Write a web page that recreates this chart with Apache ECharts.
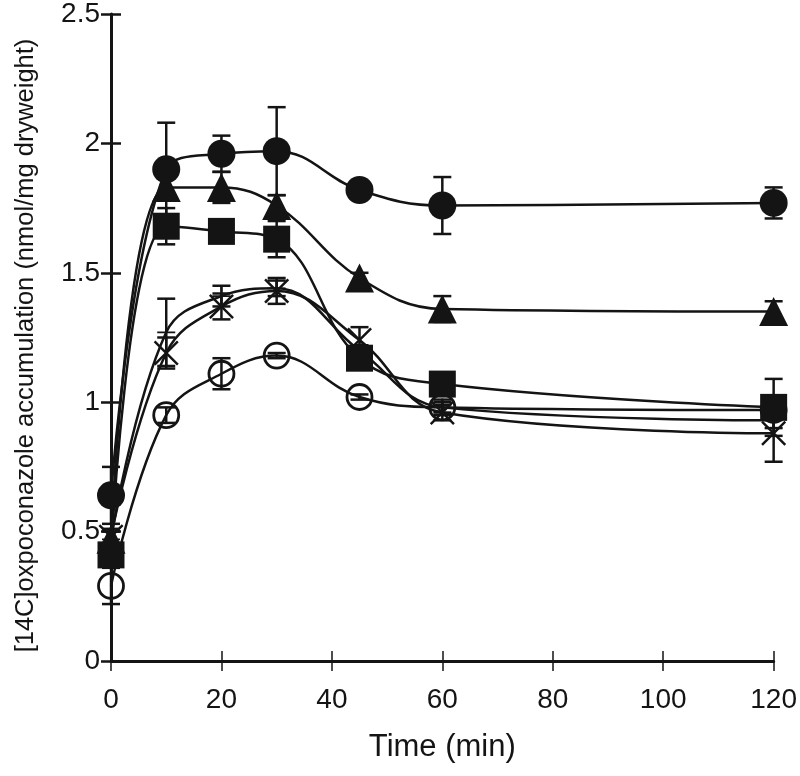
<!DOCTYPE html>
<html>
<head>
<meta charset="utf-8">
<script src="https://cdn.jsdelivr.net/npm/echarts@6/dist/echarts.min.js"></script>
<style>
html,body{margin:0;padding:0;background:#fff;}
#chart{width:800px;height:776px;}
</style>
</head>
<body>
<div id="chart"></div>
<script>
// ---- data ----
const times = [0, 10, 20, 30, 45, 60, 120];
const xTicks = [0, 20, 40, 60, 80, 100, 120];
const yTicks = [0, 0.5, 1, 1.5, 2, 2.5];

const filledCircle    = [0.64, 1.90, 1.96, 1.97, 1.82, 1.76, 1.77];
const filledCircleErr = [0.11, 0.18, 0.07, 0.17, 0.02, 0.11, 0.06];

const filledTriangle    = [0.47, 1.83, 1.83, 1.76, 1.48, 1.36, 1.35];
const filledTriangleErr = [0.04, 0.04, 0.06, 0.04, 0.02, 0.05, 0.04];

const filledSquare    = [0.41, 1.68, 1.66, 1.63, 1.17, 1.07, 0.98];
const filledSquareErr = [0.04, 0.07, 0.02, 0.07, 0.03, 0.03, 0.11];

const cross    = [0.48, 1.19, 1.37, 1.43, 1.24, 0.96, 0.88];
const crossErr = [0.03, 0.06, 0.05, 0.05, 0.05, 0.03, 0.11];

const plus    = [0.47, 1.27, 1.41, 1.44, 1.20, 0.98, 0.93];
const plusErr = [0.03, 0.13, 0.04, 0.03, 0.02, 0.03, 0.03];

const openCircle    = [0.29, 0.95, 1.11, 1.18, 1.02, 0.98, 0.97];
const openCircleErr = [0.07, 0.03, 0.06, 0.01, 0.01, 0.02, 0.02];

const xTitle = 'Time (min)';
const yTitle = '[14C]oxpoconazole accumulation (nmol/mg dryweight)';

// ---- build ----
const INK = '#141414';
const FONT = 'Liberation Sans, Arial, sans-serif';
const X_PATH = 'path://M7,0L50,43L93,0L100,7L57,50L100,93L93,100L50,57L7,100L0,93L43,50L0,7Z';
const PLUS_PATH = 'path://M45,0L55,0L55,45L100,45L100,55L55,55L55,100L45,100L45,55L0,55L0,45L45,45Z';

function pts(vals) { return times.map((t, i) => [t, vals[i]]); }
function errPts(vals, errs) { return times.map((t, i) => [t, vals[i] - errs[i], vals[i] + errs[i]]); }

function lineSeries(vals, symbol, size, itemStyle) {
  return {
    type: 'line',
    data: pts(vals),
    smooth: 0.4,
    symbol: symbol,
    symbolSize: size,
    showAllSymbol: true,
    lineStyle: { color: INK, width: 2.5 },
    itemStyle: itemStyle || { color: INK },
    z: 3,
    animation: false
  };
}

function errSeries(vals, errs) {
  return {
    type: 'custom',
    data: errPts(vals, errs),
    z: 2,
    animation: false,
    renderItem: function (params, api) {
      const x = api.value(0);
      const p1 = api.coord([x, api.value(2)]);
      const p2 = api.coord([x, api.value(1)]);
      const w = 9;
      const st = { stroke: INK, lineWidth: 2.5 };
      return {
        type: 'group',
        children: [
          { type: 'line', shape: { x1: p1[0], y1: p1[1], x2: p2[0], y2: p2[1] }, style: st },
          { type: 'line', shape: { x1: p1[0] - w, y1: p1[1], x2: p1[0] + w, y2: p1[1] }, style: st },
          { type: 'line', shape: { x1: p2[0] - w, y1: p2[1], x2: p2[0] + w, y2: p2[1] }, style: st }
        ]
      };
    }
  };
}

const axisCommon = {
  axisLine: { show: true, lineStyle: { color: INK, width: 3 } },
  splitLine: { show: false }
};

const option = {
  backgroundColor: '#fff',
  grid: { left: 111, right: 26, top: 14, bottom: 115, containLabel: false },
  xAxis: [
    Object.assign({}, axisCommon, {
      type: 'value', min: 0, max: 120, interval: 20, position: 'bottom',
      axisTick: { show: true, length: 10, lineStyle: { color: INK, width: 1.5 } },
      axisLabel: { fontSize: 28, color: INK, fontFamily: FONT, margin: 25,
        formatter: v => (xTicks.indexOf(v) >= 0 ? String(v) : '') },
      name: xTitle, nameLocation: 'middle', nameGap: 71,
      nameTextStyle: { fontSize: 31, color: INK, fontFamily: FONT }
    }),
    {
      type: 'value', min: 0, max: 120, interval: 20, position: 'bottom',
      axisLine: { show: false }, splitLine: { show: false },
      axisTick: { show: true, inside: true, length: 10, lineStyle: { color: INK, width: 1.5 } },
      axisLabel: { show: false }
    }
  ],
  yAxis: [
    Object.assign({}, axisCommon, {
      type: 'value', min: 0, max: 2.5, interval: 0.5, position: 'left',
      axisTick: { show: true, length: 10, lineStyle: { color: INK, width: 2.5 } },
      axisLabel: { fontSize: 28, color: INK, fontFamily: FONT, margin: 11,
        formatter: v => (yTicks.indexOf(v) >= 0 ? String(v) : '') },
      name: yTitle, nameLocation: 'middle', nameGap: 72, nameRotate: 90,
      nameTextStyle: { fontSize: 25.5, color: INK, fontFamily: FONT, padding: [0, 16, 0, 0] }
    }),
    {
      type: 'value', min: 0, max: 2.5, interval: 0.5, position: 'left',
      axisLine: { show: false }, splitLine: { show: false },
      axisTick: { show: true, inside: true, length: 10, lineStyle: { color: INK, width: 2.5 } },
      axisLabel: { show: false }
    }
  ],
  series: [
    errSeries(openCircle, openCircleErr),
    errSeries(cross, crossErr),
    errSeries(plus, plusErr),
    errSeries(filledSquare, filledSquareErr),
    errSeries(filledTriangle, filledTriangleErr),
    errSeries(filledCircle, filledCircleErr),
    lineSeries(openCircle, 'circle', 25, { color: 'rgba(255,255,255,0)', borderColor: INK, borderWidth: 2.8 }),
    lineSeries(plus, PLUS_PATH, 18),
    lineSeries(cross, X_PATH, 25),
    lineSeries(filledSquare, 'rect', 27),
    lineSeries(filledTriangle, 'triangle', 29),
    lineSeries(filledCircle, 'circle', 28)
  ]
};

const chart = echarts.init(document.getElementById('chart'), null, { renderer: 'canvas' });
chart.setOption(option);
</script>
</body>
</html>
